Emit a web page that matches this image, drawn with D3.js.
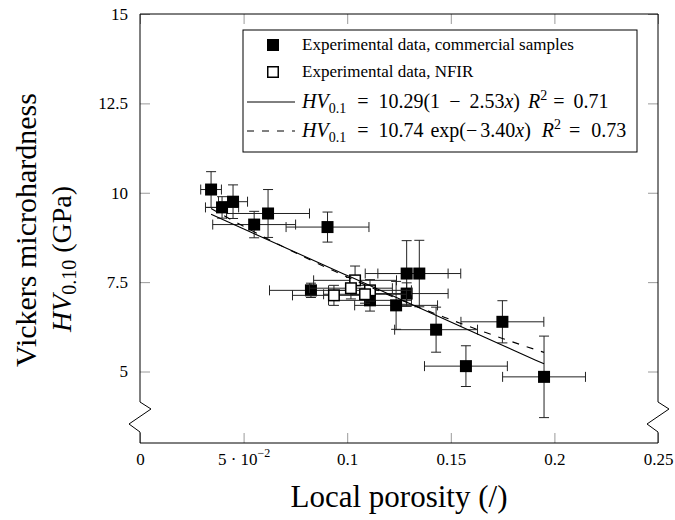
<!DOCTYPE html>
<html>
<head>
<meta charset="utf-8">
<script src="https://cdn.jsdelivr.net/npm/d3@7"></script>
<style>
  body { margin: 0; background: #fff; }
  svg text { font-family: "Liberation Serif", "DejaVu Serif", serif; fill: #000; }
</style>
</head>
<body>
<svg id="chart" width="675" height="520"></svg>
<script>
// commercial samples: porosity, hardness, and their error half-widths
var comX    = [0.0343, 0.0396, 0.0449, 0.0551, 0.0618, 0.0905, 0.0825, 0.1287, 0.1348, 0.1287, 0.1236, 0.1429, 0.1749, 0.1573, 0.1950, 0.1110];
var comY    = [10.09, 9.59, 9.75, 9.11, 9.42, 9.04, 7.27, 7.74, 7.74, 7.18, 6.85, 6.17, 6.39, 5.15, 4.85, 6.99];
var comXErr = [0.005, 0.008, 0.007, 0.02, 0.02, 0.02, 0.02, 0.02, 0.02, 0.02, 0.02, 0.02, 0.02, 0.02, 0.02, 0.02];
var comYErr = [0.50, 0.30, 0.47, 0.37, 0.67, 0.42, 0.20, 0.92, 0.93, 0.30, 0.67, 0.63, 0.59, 0.57, 1.14, 0.30];

// NFIR samples
var nfirX    = [0.1038, 0.1018, 0.1110, 0.0936, 0.1086];
var nfirY    = [7.55, 7.33, 7.27, 7.13, 7.16];
var nfirXErr = [0.02, 0.02, 0.02, 0.02, 0.02];
var nfirYErr = [0.40, 0.30, 0.30, 0.28, 0.25];

// fits: HV = a(1 - b x) and HV = c exp(-d x), drawn over the data range
var linFit = [10.29, 2.53];
var expFit = [10.74, 3.40];
var fitR2 = [0.71, 0.73];
var fitRange = [0.0343, 0.195];

var xTicks = [0, 0.05, 0.1, 0.15, 0.2, 0.25];
var xTickLabels = ["0", "5 \u00b7 10^\u22122", "0.1", "0.15", "0.2", "0.25"];
var yTicks = [5, 7.5, 10, 12.5, 15];
var yTickLabels = ["5", "7.5", "10", "12.5", "15"];

var legendLabels = ["Experimental data, commercial samples", "Experimental data, NFIR"];

function translate(x, y) {
  return "translate(" + x + "," + y + ")";
}

function zip(xs, ys, exs, eys) {
  return xs.map(function(x, i) { return { x: x, y: ys[i], ex: exs[i], ey: eys[i] }; });
}

var serif = "Liberation Serif";
var svg = d3.select("#chart");

var margin = { top: 14, right: 17, bottom: 77, left: 140 };
var plotWidth = 675 - margin.left - margin.right;
var plotHeight = 520 - margin.top - margin.bottom;

var xScale = d3.scaleLinear().domain([0, 0.25]).range([0, plotWidth]);
var yScale = d3.scaleLinear().domain([3, 15]).range([plotHeight, 0]);

var plot = svg.append("g").attr("transform", translate(margin.left, margin.top));

// ticks, all pointing inwards
var tickColor = "#9a9a9a";
var xAxis = d3.axisBottom(xScale).tickValues(xTicks).tickSizeInner(-10).tickSizeOuter(0)
  .tickFormat(function(d, i) { return xTickLabels[i]; });
var xAxisTop = d3.axisTop(xScale).tickValues(xTicks).tickSizeInner(-10).tickSizeOuter(0).tickFormat("");
var yAxis = d3.axisLeft(yScale).tickValues(yTicks).tickSizeInner(-10).tickSizeOuter(0).tickPadding(12)
  .tickFormat(function(d, i) { return yTickLabels[i]; });
var yAxisRight = d3.axisRight(yScale).tickValues(yTicks).tickSizeInner(-10).tickSizeOuter(0).tickFormat("");

var gx = plot.append("g").attr("transform", translate(0, plotHeight)).call(xAxis);
plot.append("g").call(xAxisTop);
var gy = plot.append("g").call(yAxis);
plot.append("g").attr("transform", translate(plotWidth, 0)).call(yAxisRight);

plot.selectAll(".domain").remove();
plot.selectAll(".tick line").attr("stroke", tickColor);
plot.selectAll(".tick text").attr("font-size", 17).attr("font-family", serif).attr("fill", "#000");

gx.selectAll(".tick text").attr("y", 22).attr("dy", 0)
  .each(function(d, i) {
    var lab = xTickLabels[i];
    if (lab.indexOf("^") < 0) return;
    var parts = lab.split("^");
    var t = d3.select(this).text(parts[0]);
    t.append("tspan").attr("dy", -8).attr("font-size", 12).text(parts[1]);
  });

// frame with axis breaks near the bottom
var brk = plotHeight - 41;
var frame = d3.path();
frame.moveTo(0, brk);
frame.lineTo(0, 0);
frame.lineTo(plotWidth, 0);
frame.lineTo(plotWidth, brk);
plot.append("path").attr("d", frame.toString()).attr("fill", "none").attr("stroke", "#000");

[0, plotWidth].forEach(function(x0) {
  var z = d3.line()([[x0, brk], [x0 + 11, brk + 7], [x0 - 11, brk + 22], [x0, brk + 30], [x0, plotHeight]]);
  plot.append("path").attr("d", z).attr("fill", "none").attr("stroke", "#000");
});
plot.append("line").attr("x1", 0).attr("x2", plotWidth).attr("y1", plotHeight).attr("y2", plotHeight)
  .attr("stroke", "#000");

// error bars
var capHalf = 5;
function drawErrors(data) {
  var g = plot.append("g").attr("stroke", "#222").attr("stroke-width", 1).attr("fill", "none");
  data.forEach(function(d) {
    var cx = xScale(d.x), cy = yScale(d.y);
    var x0 = xScale(d.x - d.ex), x1 = xScale(d.x + d.ex);
    var y0 = yScale(d.y + d.ey), y1 = yScale(d.y - d.ey);
    g.append("line").attr("x1", x0).attr("x2", x1).attr("y1", cy).attr("y2", cy);
    g.append("line").attr("x1", x0).attr("x2", x0).attr("y1", cy - capHalf).attr("y2", cy + capHalf);
    g.append("line").attr("x1", x1).attr("x2", x1).attr("y1", cy - capHalf).attr("y2", cy + capHalf);
    g.append("line").attr("x1", cx).attr("x2", cx).attr("y1", y0).attr("y2", y1);
    g.append("line").attr("x1", cx - capHalf).attr("x2", cx + capHalf).attr("y1", y0).attr("y2", y0);
    g.append("line").attr("x1", cx - capHalf).attr("x2", cx + capHalf).attr("y1", y1).attr("y2", y1);
  });
}

var comData = zip(comX, comY, comXErr, comYErr);
var nfirData = zip(nfirX, nfirY, nfirXErr, nfirYErr);

var size = 12;
drawErrors(comData);
plot.selectAll(".com").data(comData).enter().append("rect")
  .attr("class", "com")
  .attr("x", function(d) { return xScale(d.x) - size / 2; })
  .attr("y", function(d) { return yScale(d.y) - size / 2; })
  .attr("width", size).attr("height", size)
  .attr("fill", "#000");

drawErrors(nfirData);
plot.selectAll(".nfir").data(nfirData).enter().append("rect")
  .attr("class", "nfir")
  .attr("x", function(d) { return xScale(d.x) - size / 2 + 0.75; })
  .attr("y", function(d) { return yScale(d.y) - size / 2 + 0.75; })
  .attr("width", size - 1.5).attr("height", size - 1.5)
  .attr("fill", "#fff").attr("stroke", "#000").attr("stroke-width", 1.5);

// fitted curves
var fitXs = d3.range(0, 41).map(function(i) { return fitRange[0] + (fitRange[1] - fitRange[0]) * i / 40; });
var fitLine = d3.line()
  .x(function(d) { return xScale(d[0]); })
  .y(function(d) { return yScale(d[1]); });

plot.append("path")
  .attr("d", fitLine(fitXs.map(function(x) { return [x, linFit[0] * (1 - linFit[1] * x)]; })))
  .attr("fill", "none").attr("stroke", "#000").attr("stroke-width", 1.1);
plot.append("path")
  .attr("d", fitLine(fitXs.map(function(x) { return [x, expFit[0] * Math.exp(-expFit[1] * x)]; })))
  .attr("fill", "none").attr("stroke", "#000").attr("stroke-width", 1.1).attr("stroke-dasharray", "7,8");

// legend
var legend = svg.append("g").attr("transform", translate(243, 30));
legend.append("rect").attr("width", 394).attr("height", 122)
  .attr("fill", "#fff").attr("stroke", "#000");

var rowY = [15, 42, 72, 101];
var textX = 59;
var markX = 30;

legend.append("rect").attr("x", markX - 6).attr("y", rowY[0] - 6).attr("width", 12).attr("height", 12).attr("fill", "#000");
legend.append("rect").attr("x", markX - 5.25).attr("y", rowY[1] - 5.25).attr("width", 10.5).attr("height", 10.5)
  .attr("fill", "#fff").attr("stroke", "#000").attr("stroke-width", 1.5);
legend.append("line").attr("x1", 4).attr("x2", 52).attr("y1", rowY[2]).attr("y2", rowY[2]).attr("stroke", "#000");
legend.append("line").attr("x1", 4).attr("x2", 52).attr("y1", rowY[3]).attr("y2", rowY[3]).attr("stroke", "#000")
  .attr("stroke-dasharray", "7,8");

legend.append("text").attr("x", textX).attr("y", rowY[0] + 5).attr("font-size", 17).text(legendLabels[0]);
legend.append("text").attr("x", textX).attr("y", rowY[1] + 5).attr("font-size", 17).text(legendLabels[1]);

// pieces: [text, style, gap before]
function mathRow(y, pieces) {
  var t = legend.append("text").attr("x", textX).attr("y", y).attr("font-size", 20);
  var shift = 0;
  pieces.forEach(function(p) {
    var s = t.append("tspan").text(p[0]).attr("dx", p[2] || 0);
    var want = 0;
    if (p[1] === "i") s.attr("font-style", "italic");
    if (p[1] === "sub") { s.attr("font-size", 14); want = 5; }
    if (p[1] === "sup") { s.attr("font-size", 14); want = -8; }
    s.attr("dy", want - shift);
    shift = want;
  });
}
mathRow(rowY[2] + 6, [["HV", "i"], ["0.1", "sub"], ["=", "", 11], [linFit[0].toFixed(2) + "(1", "", 10],
  ["\u2212", "", 9], [linFit[1].toFixed(2), "", 9], ["x", "i"], [")", ""], ["R", "i", 8], ["2", "sup"],
  ["=", "", 6], [fitR2[0].toFixed(2), "", 9]]);
mathRow(rowY[3] + 6, [["HV", "i"], ["0.1", "sub"], ["=", "", 11], [expFit[0].toFixed(2), "", 10],
  ["exp(", "", 7], ["\u2212", ""], [expFit[1].toFixed(2), "", 3], ["x", "i"], [")", ""], ["R", "i", 11], ["2", "sup"],
  ["=", "", 8], [fitR2[1].toFixed(2), "", 11]]);

// axis titles
svg.append("text")
  .attr("x", margin.left + plotWidth / 2).attr("y", 507)
  .attr("text-anchor", "middle").attr("font-size", 31)
  .text("Local porosity (/)");

svg.append("text")
  .attr("transform", translate(36, 230) + " rotate(-90)")
  .attr("text-anchor", "middle").attr("font-size", 30)
  .text("Vickers microhardness");

var yl2 = svg.append("text")
  .attr("transform", translate(71, 259) + " rotate(-90)")
  .attr("text-anchor", "middle").attr("font-size", 28);
yl2.append("tspan").attr("font-style", "italic").text("HV");
yl2.append("tspan").attr("font-size", 20).attr("dy", 5).text("0.10");
yl2.append("tspan").attr("dy", -5).text(" (GPa)");
</script>
</body>
</html>
